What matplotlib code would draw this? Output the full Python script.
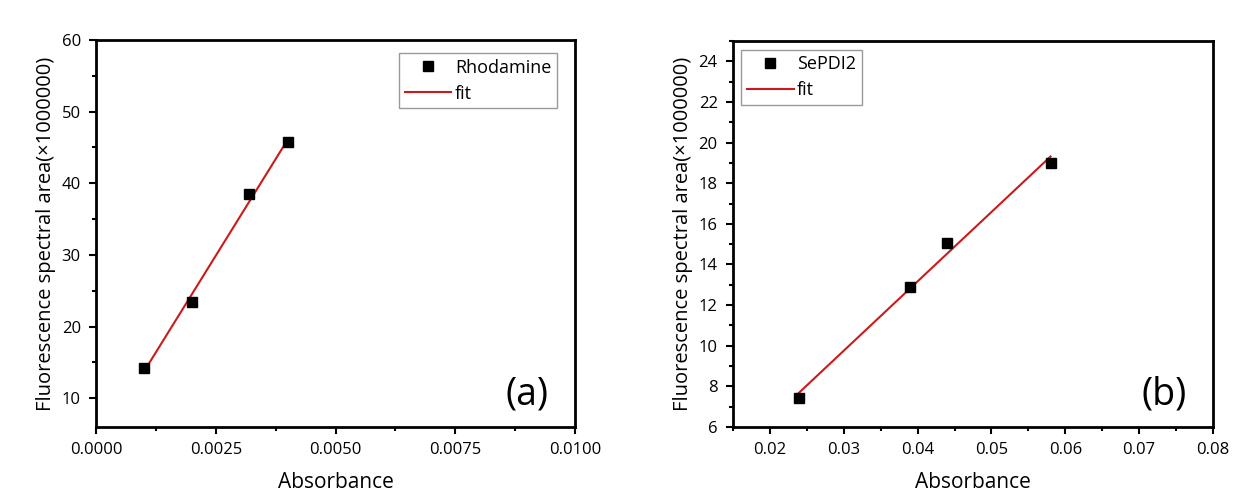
import numpy as np
import matplotlib.pyplot as plt
from matplotlib.ticker import MultipleLocator, FormatStrFormatter

# panel (a): Rhodamine
abs_a = [0.001, 0.002, 0.0032, 0.004]
area_a = [14.2, 23.4, 38.5, 45.7]
# panel (b): SePDI2
abs_b = [0.0239, 0.039, 0.044, 0.058]
area_b = [7.42, 12.88, 15.08, 18.97]

plt.rcParams['font.family'] = ['Open Sans', 'DejaVu Sans']
plt.rcParams['font.weight'] = 'medium'
plt.rcParams['axes.linewidth'] = 2.0
plt.rcParams['xtick.direction'] = 'out'
plt.rcParams['ytick.direction'] = 'out'

fig = plt.figure(figsize=(12.33, 4.95), dpi=100)
ax1 = fig.add_axes([0.0779, 0.1374, 0.3885, 0.7818])
ax2 = fig.add_axes([0.5945, 0.1374, 0.3893, 0.7798])

RED = '#cc1a1a'
ylab = 'Fluorescence spectral area(\u00d71000000)'


def panel(ax, x, y, name, tag, xlim, ylim, xmaj, xmin, ymaj, ymin, xfmt):
    x = np.array(x)
    k, b = np.polyfit(x, y, 1)
    ax.plot(x, y, 's', color='black', markersize=7, label=name, zorder=3)
    xs = np.array([x.min(), x.max()])
    ax.plot(xs, k * xs + b, '-', color=RED, lw=1.5, label='fit', zorder=2)
    ax.set_xlim(*xlim)
    ax.set_ylim(*ylim)
    ax.xaxis.set_major_locator(MultipleLocator(xmaj))
    ax.xaxis.set_minor_locator(MultipleLocator(xmin))
    ax.yaxis.set_major_locator(MultipleLocator(ymaj))
    ax.yaxis.set_minor_locator(MultipleLocator(ymin))
    ax.xaxis.set_major_formatter(xfmt)
    ax.tick_params(which='major', length=5, width=1.5, labelsize=12, pad=6)
    ax.tick_params(which='minor', length=3, width=1.5)
    ax.set_xlabel('Absorbance', fontsize=15, labelpad=10)
    ax.set_ylabel(ylab, fontsize=14.5, labelpad=4)
    ax.text(0.945, 0.035, tag, transform=ax.transAxes, fontsize=27,
            ha='right', va='bottom')
    return ax


panel(ax1, abs_a, area_a, 'Rhodamine', '(a)', (0, 0.01), (6, 60),
      0.0025, 0.00125, 10, 5, FormatStrFormatter('%.4f'))
panel(ax2, abs_b, area_b, 'SePDI2', '(b)', (0.015, 0.08), (6, 25),
      0.01, 0.005, 2, 1, FormatStrFormatter('%.2f'))
ax1.set_yticks([10, 20, 30, 40, 50, 60])

leg_kw = dict(fontsize=13, fancybox=False, edgecolor='#999999', framealpha=1,
              handlelength=2.6, handletextpad=0.2, borderpad=0.3,
              labelspacing=0.45, borderaxespad=0)
leg1 = ax1.legend(loc='upper right', bbox_to_anchor=(0.962, 0.966), **leg_kw)
leg1.get_frame().set_linewidth(1.0)
leg2 = ax2.legend(loc='upper left', bbox_to_anchor=(0.017, 0.977), **leg_kw)
leg2.get_frame().set_linewidth(1.0)

fig.savefig('out.png', dpi=100)
